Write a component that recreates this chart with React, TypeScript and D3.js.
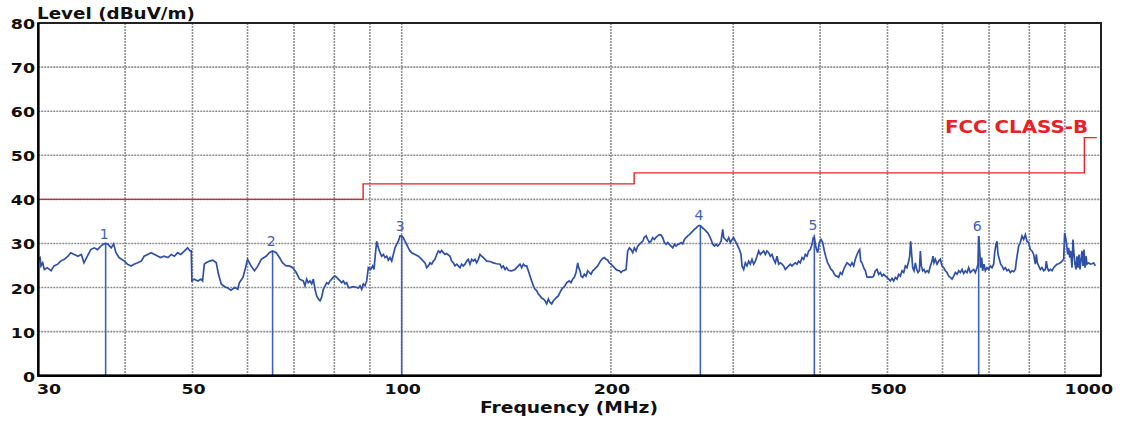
import React from 'react';
import * as d3 from 'd3';

// ---------- data ----------
const yTicks = [0, 10, 20, 30, 40, 50, 60, 70, 80];
const xGridFreqs = [40, 50, 60, 70, 80, 90, 100, 200, 300, 400, 500, 600, 700, 800, 900];
const xTickLabels = [30, 50, 100, 200, 500, 1000];

const limitFreq = [30, 88, 216, 960, 1000];
const limitLevel = [40, 43.5, 46, 54, 54];
const limitName = 'FCC CLASS-B';

const markerNo = [1, 2, 3, 4, 5, 6];
const markerFreq = [37.5, 65.2, 100.0, 269.0, 392.4, 676.4];
const markerLevel = [29.9, 28.3, 31.7, 34.1, 32.0, 31.7];

// measured trace, [MHz, dBuV/m]
const scan30to71: [number, number][] = [
  [30.0, 26.4], [30.17, 26.8], [30.27, 24.9], [30.44, 25.6], [30.6, 24.1], [30.9, 24.5], [31.3, 23.8], [31.6, 24.9],
  [32.0, 25.3], [32.3, 26.0], [32.7, 26.4], [33.1, 27.1], [33.4, 27.9], [33.8, 27.5], [34.2, 27.1], [34.6, 27.5],
  [34.9, 25.6], [35.3, 27.1], [35.7, 28.6], [36.1, 29.0], [36.5, 28.6], [36.9, 29.4], [37.3, 29.9], [37.5, 30.0],
  [37.8, 29.8], [38.2, 29.0], [38.5, 29.9], [38.8, 27.9], [39.2, 26.8], [39.9, 26.0], [40.3, 25.3], [40.8, 24.9],
  [41.2, 25.3], [41.7, 25.6], [42.2, 26.0], [42.6, 27.1], [43.1, 27.5], [43.6, 27.9], [44.1, 27.5], [44.6, 27.1],
  [45.0, 26.8], [45.5, 27.1], [46.1, 26.8], [46.6, 27.5], [47.1, 27.1], [47.6, 27.9], [48.1, 27.5], [48.7, 28.3],
  [49.2, 29.0], [49.6, 28.3], [49.8, 28.3], [49.9, 21.5], [50.3, 21.9], [50.9, 21.5], [51.4, 21.9], [51.7, 21.5],
  [52.0, 25.3], [52.3, 25.6], [52.9, 26.0], [53.5, 26.2], [54.1, 25.6], [54.5, 23.0], [55.0, 20.8], [55.6, 20.2],
  [56.2, 19.9], [56.8, 19.4], [57.5, 20.0], [58.1, 19.6], [58.4, 21.1], [59.1, 22.3], [59.7, 24.9], [60.0, 26.4],
  [60.7, 24.9], [61.4, 23.8], [62.1, 24.9], [62.8, 26.4], [63.8, 27.1], [64.5, 27.9], [65.2, 28.3], [66.0, 27.9],
  [66.7, 26.8], [67.4, 25.6], [68.2, 24.9], [68.9, 24.9], [69.7, 24.5], [70.5, 23.4], [71.3, 21.9],
];

const scan72to173: [number, number][] = [
  [72.18, 21.5], [72.58, 20.4], [72.99, 21.9], [73.39, 21.1], [73.8, 21.5], [74.21, 20.8], [74.62, 21.9], [75.03, 19.6],
  [75.45, 18.1], [75.87, 17.4], [76.29, 17.0], [76.71, 17.8], [77.14, 19.6], [77.57, 20.4], [78.0, 21.1], [78.43, 20.8],
  [78.86, 21.5], [79.3, 21.9], [79.74, 22.4], [80.18, 22.6], [80.62, 22.3], [81.07, 21.9], [81.52, 21.5], [81.97, 21.1],
  [82.43, 21.5], [82.88, 20.8], [83.34, 21.1], [83.8, 20.0], [84.26, 20.0], [85.2, 20.2], [86.14, 20.0], [86.62, 19.9],
  [87.1, 20.4], [87.58, 19.6], [88.06, 20.8], [88.55, 20.4], [89.05, 21.5], [89.54, 24.5], [90.23, 24.1], [90.83, 24.9],
  [91.23, 24.1], [91.64, 27.5], [92.04, 30.5], [92.55, 29.0], [93.07, 27.9], [93.58, 27.1], [94.1, 27.5], [94.62, 26.8],
  [95.15, 27.1], [95.67, 26.2], [96.2, 26.8], [96.74, 26.0], [97.27, 27.5], [97.81, 29.0], [98.35, 29.8], [98.89, 30.5],
  [99.44, 31.7], [99.99, 31.7], [100.54, 31.3], [101.1, 30.5], [101.66, 29.8], [102.22, 29.0], [102.79, 28.3], [103.36, 27.9],
  [104.51, 27.5], [105.67, 27.1], [106.84, 26.4], [108.03, 25.6], [108.63, 24.5], [109.23, 24.9], [109.84, 25.6], [110.44, 25.3],
  [111.05, 26.0], [111.67, 26.4], [112.29, 27.5], [112.91, 28.3], [113.53, 27.9], [114.16, 28.4], [114.79, 27.9], [115.43, 27.5],
  [116.07, 27.7], [117.35, 27.1], [118.0, 26.0], [118.66, 25.6], [119.31, 24.9], [119.97, 25.3], [120.64, 24.9], [121.31, 24.5],
  [121.98, 25.3], [122.65, 24.9], [123.33, 25.3], [124.02, 26.0], [124.7, 26.4], [125.39, 25.3], [126.09, 26.4], [126.78, 26.0],
  [127.49, 26.4], [128.19, 25.6], [128.9, 26.4], [129.62, 27.5], [130.34, 27.1], [131.06, 26.8], [131.79, 26.4], [132.52, 26.0],
  [133.99, 25.9], [135.48, 25.6], [136.98, 25.4], [138.5, 25.3], [139.27, 24.5], [140.04, 24.9], [140.82, 24.1], [141.6, 24.5],
  [142.38, 23.9], [143.96, 23.8], [145.56, 24.1], [146.36, 24.5], [147.17, 24.9], [147.99, 25.3], [148.81, 24.5], [149.63, 25.3],
  [150.46, 24.9], [151.3, 24.9], [152.13, 23.8], [152.98, 22.6], [153.82, 21.5], [154.67, 20.4], [155.53, 19.6], [156.39, 19.3],
  [157.26, 18.5], [158.13, 18.1], [159.01, 17.6], [159.89, 17.4], [160.78, 17.0], [161.67, 16.3], [162.56, 17.4], [163.45, 16.6],
  [164.36, 16.3], [165.27, 17.0], [166.19, 17.4], [167.11, 17.8], [168.03, 18.1], [168.96, 18.9], [169.9, 19.6], [170.84, 20.0],
  [171.78, 20.4], [172.73, 21.1],
];

const scan174to422: [number, number][] = [
  [174.26, 21.5], [175.23, 21.1], [176.2, 21.9], [177.18, 22.3], [178.16, 23.4], [179.15, 25.6], [179.75, 24.5], [180.55, 23.8],
  [181.15, 22.6], [182.15, 22.3], [183.16, 23.0], [184.17, 22.6], [185.2, 23.8], [186.22, 23.4], [187.25, 23.0], [188.29, 23.8],
  [189.34, 24.1], [190.39, 24.5], [191.44, 24.9], [192.49, 25.6], [193.56, 26.2], [194.63, 26.6], [195.71, 26.8], [196.79, 26.4],
  [197.88, 26.2], [198.97, 25.6], [200.08, 25.3], [201.18, 24.9], [202.3, 24.5], [203.43, 24.1], [204.56, 23.9], [205.69, 23.8],
  [206.83, 23.4], [207.98, 23.8], [209.13, 23.9], [210.29, 24.1], [211.45, 28.3], [212.63, 29.0], [213.8, 28.6], [214.98, 27.9],
  [216.17, 29.0], [217.37, 28.3], [218.57, 29.4], [219.78, 29.8], [221.0, 30.2], [222.22, 30.5], [223.45, 31.4], [224.69, 31.7],
  [225.93, 30.9], [227.18, 30.2], [228.44, 30.5], [229.7, 31.3], [230.97, 30.9], [232.25, 31.4], [233.54, 31.7], [234.83, 32.0],
  [236.13, 31.9], [237.44, 31.3], [238.76, 30.2], [240.09, 29.8], [241.42, 30.2], [242.75, 29.8], [244.1, 29.4], [245.45, 29.0],
  [246.81, 29.8], [248.17, 29.4], [249.55, 29.8], [250.93, 29.9], [252.32, 30.2], [253.73, 29.9], [255.13, 30.9], [256.54, 31.3],
  [257.96, 31.7], [259.39, 32.0], [260.83, 32.4], [262.27, 32.8], [263.72, 33.2], [265.18, 33.5], [266.65, 33.9], [268.13, 34.1],
  [269.61, 33.9], [271.11, 33.5], [272.61, 33.2], [274.12, 32.8], [275.64, 32.4], [277.16, 31.7], [278.7, 30.9], [280.24, 29.8],
  [281.79, 29.4], [283.36, 29.8], [284.92, 29.4], [286.5, 29.8], [288.09, 30.5], [289.68, 33.2], [290.65, 31.3], [292.26, 30.9],
  [293.88, 30.5], [295.5, 31.3], [297.14, 30.2], [298.78, 30.9], [300.37, 31.3], [302.03, 30.5], [303.7, 29.8], [305.38, 29.0],
  [306.73, 28.3], [307.75, 27.5], [308.78, 24.9], [310.49, 24.1], [312.21, 25.6], [313.94, 24.9], [315.67, 26.0], [317.42, 25.3],
  [319.18, 26.4], [320.95, 25.3], [322.72, 26.0], [324.51, 27.1], [326.31, 28.3], [328.11, 27.5], [329.93, 27.9], [331.75, 28.3],
  [333.59, 27.5], [335.44, 28.3], [337.29, 27.9], [339.16, 27.1], [341.04, 27.5], [342.93, 26.4], [344.82, 25.6], [346.73, 27.1],
  [348.65, 25.3], [350.58, 25.6], [352.52, 25.3], [354.48, 24.9], [356.44, 24.1], [358.41, 24.5], [360.4, 24.9], [362.39, 25.3],
  [364.4, 24.9], [366.41, 25.3], [368.44, 25.6], [370.48, 25.3], [372.53, 26.0], [374.59, 25.6], [376.67, 26.8], [378.75, 26.4],
  [380.85, 27.5], [382.95, 27.1], [385.07, 28.3], [387.2, 28.6], [389.35, 29.8], [391.07, 31.3], [392.37, 31.3], [394.57, 29.0],
  [396.76, 27.9], [398.95, 30.2], [401.16, 30.9], [403.38, 30.2], [405.62, 28.3], [407.86, 26.8], [410.12, 25.6], [412.39, 24.9],
  [414.68, 24.1], [416.99, 23.8], [419.3, 23.0], [421.62, 22.6],
];

const scan423to995: [number, number][] = [
  [423.0, 22.6], [425.35, 22.3], [427.71, 23.4], [430.08, 23.0], [432.46, 24.1], [434.85, 24.9], [437.26, 25.6], [439.67, 25.3],
  [442.11, 24.9], [444.55, 25.6], [447.01, 24.9], [449.49, 26.4], [451.98, 27.5], [454.48, 28.3], [455.99, 28.6], [457.5, 26.0],
  [459.53, 25.6], [462.07, 24.5], [464.63, 23.8], [467.2, 22.4], [469.79, 22.3], [472.39, 22.4], [475.0, 22.3], [477.63, 22.6],
  [480.28, 23.8], [482.93, 24.1], [485.61, 23.0], [488.32, 23.4], [491.04, 22.6], [493.76, 23.0], [496.49, 22.6], [499.24, 22.3],
  [502.01, 21.9], [504.79, 21.5], [507.58, 22.1], [510.39, 21.5], [513.22, 22.3], [516.06, 21.9], [518.9, 23.0], [521.77, 22.6],
  [524.66, 23.8], [527.57, 23.4], [530.49, 24.9], [533.42, 24.5], [536.38, 26.0], [538.16, 27.1], [539.95, 30.5], [541.75, 27.5],
  [543.54, 24.5], [545.95, 23.8], [548.36, 25.6], [550.8, 24.1], [553.24, 23.4], [555.7, 23.8], [557.54, 28.3], [559.4, 24.9],
  [561.88, 23.8], [564.37, 24.1], [566.88, 23.4], [570.02, 23.8], [573.17, 23.4], [576.35, 24.9], [579.49, 26.0], [581.42, 27.1],
  [583.36, 25.6], [585.93, 26.4], [589.18, 25.3], [592.44, 26.0], [595.72, 26.4], [599.01, 24.9], [602.33, 24.5], [605.66, 23.8],
  [609.02, 23.4], [612.41, 22.6], [615.8, 22.3], [619.21, 21.9], [622.64, 22.6], [626.08, 23.4], [629.55, 23.0], [633.03, 23.8],
  [636.54, 23.4], [640.06, 24.1], [643.59, 23.2], [647.13, 23.8], [650.71, 23.4], [654.31, 24.5], [657.94, 23.4], [661.58, 23.8],
  [665.24, 24.1], [668.93, 23.4], [672.63, 24.5], [674.87, 25.3], [676.37, 31.7], [678.62, 28.3], [680.87, 24.5], [683.14, 26.8],
  [685.36, 23.8], [688.4, 25.3], [691.45, 23.8], [695.28, 24.5], [699.13, 24.1], [703.0, 24.9], [706.89, 24.5], [710.8, 25.3],
  [713.17, 27.9], [716.34, 29.8], [718.72, 30.5], [721.1, 27.5], [724.3, 26.4], [727.51, 25.3], [730.73, 24.9], [734.78, 24.1],
  [738.85, 24.5], [742.94, 23.8], [747.05, 24.1], [751.19, 23.4], [755.35, 23.8], [759.53, 23.6], [763.69, 24.1], [766.23, 26.0],
  [768.78, 27.5], [772.17, 29.4], [776.45, 30.2], [780.75, 31.7], [785.07, 30.9], [789.42, 32.0], [793.79, 30.5], [798.18, 30.2],
  [802.6, 28.6], [807.05, 28.3], [811.52, 27.5], [816.01, 25.3], [818.73, 27.5], [821.46, 25.6], [825.1, 24.9], [829.67, 24.1],
  [834.26, 24.5], [838.88, 23.8], [843.53, 24.1], [846.33, 26.0], [849.14, 24.5], [852.88, 23.8], [857.6, 24.1], [862.35, 23.8],
  [867.12, 24.5], [871.92, 24.9], [876.75, 25.3], [881.6, 25.4], [886.49, 25.6], [891.39, 26.0], [896.33, 26.4], [899.31, 32.4],
  [902.27, 31.3], [905.27, 29.8], [908.28, 27.5], [911.28, 29.0], [914.31, 26.8], [917.35, 28.3], [921.41, 24.5], [924.47, 30.9],
  [927.54, 27.5], [930.63, 25.3], [933.72, 24.1], [936.82, 27.1], [939.94, 24.5], [943.06, 27.5], [946.2, 24.1], [949.34, 26.4],
  [952.46, 28.3], [955.63, 24.9], [958.8, 28.6], [961.99, 24.5], [965.19, 27.1], [968.4, 25.3], [973.76, 25.6], [979.15, 25.3],
  [984.57, 25.4], [990.02, 25.6], [995.44, 24.9],
];

// ---------- layout ----------
const W = 1123;
const H = 423;
const left = 38.3;
const right = 1101;
const top = 23;
const bottom = 375.7;

const BLUE = '#2f50a6';
const MARK = '#4062b6';
const RED = '#e82028';
const GRID = '#8f8f8f';
const FONT = '"DejaVu Sans", Verdana, sans-serif';

export default function App() {
  const x = d3.scaleLog().domain([30, 1000]).range([left, 1096.7]);
  const y = d3.scaleLinear().domain([0, 80]).range([bottom, top]);

  const trace = [...scan30to71, ...scan72to173, ...scan174to422, ...scan423to995];
  const line = d3
    .line<[number, number]>()
    .x((d) => x(d[0]))
    .y((d) => y(d[1]));

  const limitPts: [number, number][] = limitFreq.map((f, i) => [f, limitLevel[i]]);
  const limitLine = d3
    .line<[number, number]>()
    .x((d) => x(d[0]))
    .y((d) => y(d[1]))
    .curve(d3.curveStepAfter);

  return (
    <svg
      width={W}
      height={H}
      style={{ position: 'absolute', left: 0, top: 0, background: '#fff' }}
      fontFamily={FONT}
    >
      <rect x={0} y={0} width={W} height={H} fill="#fff" />
      {/* grid */}
      {yTicks
        .filter((v) => v > 0 && v < 80)
        .map((v) => (
          <line key={'gy' + v} x1={left} x2={right} y1={y(v)} y2={y(v)} stroke={GRID} strokeWidth={1.6} strokeDasharray="2 1" />
        ))}
      {xGridFreqs.map((f) => (
        <line key={'gx' + f} x1={x(f)} x2={x(f)} y1={top} y2={bottom} stroke={GRID} strokeWidth={1.6} strokeDasharray="2 1" />
      ))}

      {/* limit */}
      <path d={limitLine(limitPts) || ''} fill="none" stroke={RED} strokeWidth={1.4} />
      <text x={945} y={133} fontSize={17} fontWeight="bold" fill={RED} textLength={143} lengthAdjust="spacingAndGlyphs">
        {limitName}
      </text>

      {/* markers */}
      {markerNo.map((n, i) => (
        <g key={'m' + n}>
          <line
            x1={x(markerFreq[i])}
            x2={x(markerFreq[i])}
            y1={y(markerLevel[i])}
            y2={bottom}
            stroke={MARK}
            strokeWidth={1.6}
          />
          <text
            x={x(markerFreq[i]) - 1.5}
            y={y(markerLevel[i]) - 5}
            textAnchor="middle"
            fontSize={14}
            fill={MARK}
          >
            {n}
          </text>
        </g>
      ))}

      {/* trace */}
      <path d={line(trace) || ''} fill="none" stroke={BLUE} strokeWidth={1.7} strokeLinejoin="miter" />

      {/* frame */}
      <rect x={left} y={top} width={right - left} height={bottom - top} fill="none" stroke="#222" strokeWidth={2} />
      <line x1={left} x2={left} y1={top} y2={bottom + 1} stroke="#000" strokeWidth={2.4} />
      <line x1={left} x2={right} y1={bottom} y2={bottom} stroke="#000" strokeWidth={2.4} />

      {/* y labels */}
      {yTicks.map((v) => (
        <text
          key={'yl' + v}
          transform={`translate(35,${y(v) + 6}) scale(1.2,1)`}
          textAnchor="end"
          fontSize={14.5}
          fontWeight="bold"
          fill="#111"
        >
          {v}
        </text>
      ))}
      {/* x labels */}
      {xTickLabels.map((f, i) => {
        const anchor = i === 0 ? 'start' : i === xTickLabels.length - 1 ? 'end' : 'middle';
        const px = i === 0 ? 37 : i === xTickLabels.length - 1 ? 1113 : x(f) + 1;
        return (
          <text
            key={'xl' + f}
            transform={`translate(${px},394) scale(1.2,1)`}
            textAnchor={anchor}
            fontSize={14.5}
            fontWeight="bold"
            fill="#111"
          >
            {f}
          </text>
        );
      })}

      <text x={37} y={18.5} fontSize={16} fontWeight="bold" fill="#111" textLength={158} lengthAdjust="spacingAndGlyphs">
        Level (dBuV/m)
      </text>
      <text x={480} y={413} fontSize={15.5} fontWeight="bold" fill="#111" textLength={178} lengthAdjust="spacingAndGlyphs">
        Frequency (MHz)
      </text>
    </svg>
  );
}
